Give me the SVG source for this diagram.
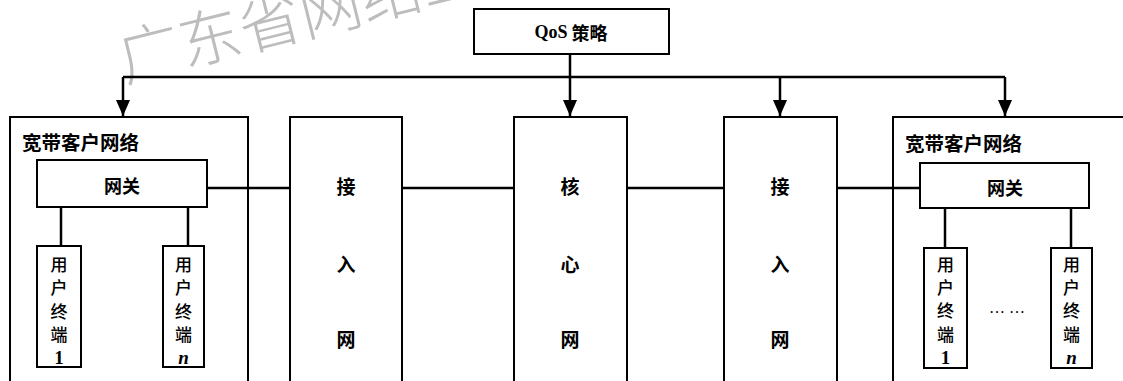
<svg xmlns="http://www.w3.org/2000/svg" width="1123" height="381" viewBox="0 0 1123 381">
<style>
.box{fill:#fff;stroke:#000;stroke-width:2}
.con{fill:none;stroke:#000;stroke-width:2.5}
.cjk{font-family:"Noto Sans CJK SC","Noto Sans CJK JP",sans-serif;font-weight:bold;fill:#000;text-anchor:middle;dominant-baseline:central}
.t{font-size:18px}
.tm{font-family:"Noto Sans CJK SC","Noto Sans CJK JP",sans-serif;font-weight:500;font-size:17px;fill:#000;text-anchor:middle;dominant-baseline:central}
.big{font-size:19px}
.ser{font-family:"Liberation Serif",serif;font-weight:bold;fill:#000;text-anchor:middle;dominant-baseline:central;font-size:19px}
.wm{font-family:"Noto Sans CJK SC",sans-serif;font-size:62px;fill:#bdbdbd;font-weight:300}
</style>
<defs>
<marker id="arr" markerUnits="userSpaceOnUse" viewBox="0 0 16 14" refX="16" refY="7" markerWidth="16" markerHeight="14" orient="auto">
<path d="M0,0 L16,7 L0,14 z" fill="#000"/>
</marker>
</defs>
<rect width="1123" height="381" fill="#fff"/>
<text class="wm" x="125" y="82" transform="rotate(-14 125 82)">广东省网络工</text>
<g id="qos"><rect class="box" x="474" y="9" width="195" height="45"/><text x="571" y="32" class="cjk t"><tspan font-family="Liberation Serif,serif">QoS</tspan> 策略</text></g>
<g id="left-net"><rect class="box" x="10" y="117" width="238" height="275"/><text class="cjk" style="text-anchor:start;font-size:19.5px" x="22" y="141">宽带客户网络</text></g>
<g id="left-gw"><rect class="box" x="37" y="160" width="170" height="47"/><text class="cjk t" x="122" y="185">网关</text></g>
<g id="left-t1"><rect class="box" x="37" y="246" width="44" height="121"/><text class="tm" x="59" y="263">用</text><text class="tm" x="59" y="286">户</text><text class="tm" x="59" y="310">终</text><text class="tm" x="59" y="333">端</text><text class="ser" x="59" y="357">1</text></g>
<g id="left-tn"><rect class="box" x="163" y="246" width="41" height="121"/><text class="tm" x="183.5" y="263">用</text><text class="tm" x="183.5" y="286">户</text><text class="tm" x="183.5" y="310">终</text><text class="tm" x="183.5" y="333">端</text><text class="ser" font-style="italic" x="183.5" y="357">n</text></g>
<g id="access1"><rect class="box" x="290" y="117" width="112" height="275"/><text class="cjk big" x="346" y="185">接</text><text class="cjk big" x="346" y="263">入</text><text class="cjk big" x="346" y="338">网</text></g>
<g id="core"><rect class="box" x="514" y="117" width="113" height="275"/><text class="cjk big" x="570" y="185">核</text><text class="cjk big" x="570" y="263">心</text><text class="cjk big" x="570" y="338">网</text></g>
<g id="access2"><rect class="box" x="724" y="117" width="113" height="275"/><text class="cjk big" x="780" y="185">接</text><text class="cjk big" x="780" y="263">入</text><text class="cjk big" x="780" y="338">网</text></g>
<g id="right-net"><rect class="box" x="893" y="117" width="240" height="275"/><text class="cjk" style="text-anchor:start;font-size:19.5px" x="905" y="142">宽带客户网络</text></g>
<g id="right-gw"><rect class="box" x="920" y="163" width="169" height="45"/><text class="cjk t" x="1005" y="187">网关</text></g>
<g id="right-t1"><rect class="box" x="924" y="248" width="43" height="120"/><text class="tm" x="945.5" y="263">用</text><text class="tm" x="945.5" y="286">户</text><text class="tm" x="945.5" y="309">终</text><text class="tm" x="945.5" y="333">端</text><text class="ser" x="945.5" y="357">1</text></g>
<g id="right-dots"><text class="ser" style="font-weight:normal;font-size:16px" x="1007" y="307">…  …</text></g>
<g id="right-tn"><rect class="box" x="1051" y="248" width="41" height="120"/><text class="tm" x="1071.5" y="263">用</text><text class="tm" x="1071.5" y="286">户</text><text class="tm" x="1071.5" y="309">终</text><text class="tm" x="1071.5" y="333">端</text><text class="ser" font-style="italic" x="1071.5" y="357">n</text></g>
<g id="connectors">
<path class="con" d="M570,54 V116" marker-end="url(#arr)"/>
<path class="con" d="M123,77 H1005"/>
<path class="con" d="M123,77 V116" marker-end="url(#arr)"/>
<path class="con" d="M780,77 V116" marker-end="url(#arr)"/>
<path class="con" d="M1005,77 V116" marker-end="url(#arr)"/>
<path class="con" d="M207,188 H290"/>
<path class="con" d="M402,188 H514"/>
<path class="con" d="M627,188 H724"/>
<path class="con" d="M837,188 H920"/>
<path class="con" d="M61,207 V246"/>
<path class="con" d="M188,207 V246"/>
<path class="con" d="M945,208 V248"/>
<path class="con" d="M1071,208 V248"/>
</g>
</svg>
